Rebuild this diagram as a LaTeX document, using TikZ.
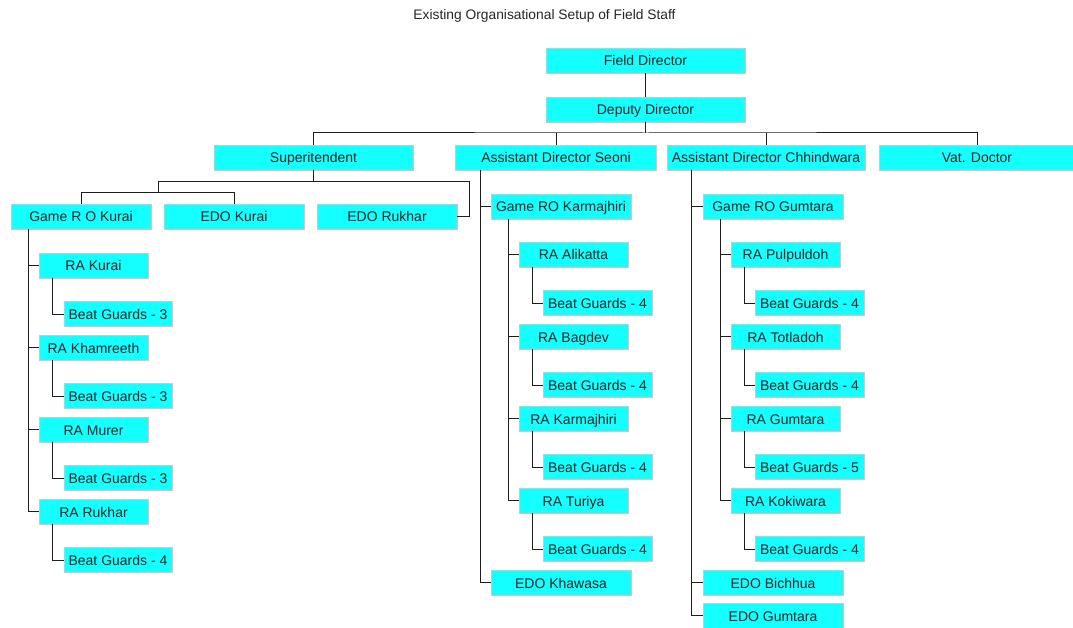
\documentclass[tikz,border=0pt]{standalone}
\usepackage{fontspec}
\setmainfont{Liberation Sans}
\definecolor{boxcyan}{RGB}{20,255,255}
\definecolor{boxedge}{RGB}{200,200,200}
\definecolor{linec}{RGB}{30,30,30}
\tikzset{
  orgbox/.style={draw=boxedge, fill=boxcyan, line width=0.8pt, minimum height=25pt, inner sep=0pt,
    text height=12pt, text depth=1pt,
    font=\fontsize{14}{16}\selectfont, text=black!85},
  wbig/.style={minimum width=199pt},
  wmid/.style={minimum width=140pt},
  wra/.style={minimum width=109pt},
  wbg/.style={minimum width=108pt},
  conn/.style={draw=linec, line width=1pt},
}
\begin{document}
\begin{tikzpicture}[x=1pt,y=-1pt]
\useasboundingbox (0,0) rectangle (1073,628);
\node[font=\fontsize{13.8}{16}\selectfont, text=black!85] (title) at (544.5,16) {Existing Organisational Setup of Field Staff};

% top levels
\node[orgbox,wbig] (fd) at (645.5,60.5) {Field Director};
\node[orgbox,wbig] (dd) at (645.5,109.5) {Deputy Director};
\node[orgbox,wbig] (sup) at (313.5,157.5) {Superitendent};
\node[orgbox,minimum width=201pt] (ads) at (556,157.5) {Assistant Director Seoni};
\node[orgbox,minimum width=198pt] (adc) at (766,157.5) {Assistant Director Chhindwara};
\node[orgbox,minimum width=196pt] (vat) at (977,157.5) {Vat. Doctor};

\draw[conn] (fd.south) -- (dd.north);
\coordinate (bus) at (645.5,133);
\draw[conn] (dd.south) -- (bus);
\draw[conn] (sup.north) |- (bus) -| (vat.north);
\draw[conn] (ads.north) -- (ads.north |- bus);
\draw[conn] (adc.north) -- (adc.north |- bus);

% Superitendent subtree
\node[orgbox,wmid] (grk) at (81,216.5) {Game R O Kurai};
\node[orgbox,wmid] (edok) at (234,216.5) {EDO Kurai};
\node[orgbox,wmid] (edor) at (387,216.5) {EDO Rukhar};
\coordinate (s1) at (158,181.5);
\coordinate (s2) at (469,181.5);
\coordinate (k1) at (158,192.5);
\draw[conn] (sup.south) -- (sup.south |- s1);
\draw[conn] (s1) -- (s2) |- (edor.east);
\draw[conn] (s1) -- (k1);
\draw[conn] (grk.north) |- (k1) -| (edok.north);

% Kurai column
\node[orgbox,wra] (rak) at (93.5,265.5) {RA Kurai};
\node[orgbox,wbg] (bgk1) at (118,314) {Beat Guards - 3};
\node[orgbox,wra] (rakh) at (93.5,347.5) {RA Khamreeth};
\node[orgbox,wbg] (bgk2) at (118,396) {Beat Guards - 3};
\node[orgbox,wra] (ram) at (93.5,429.5) {RA Murer};
\node[orgbox,wbg] (bgk3) at (118,478) {Beat Guards - 3};
\node[orgbox,wra] (rar) at (93.5,511.5) {RA Rukhar};
\node[orgbox,wbg] (bgk4) at (118,560) {Beat Guards - 4};
\coordinate (kx) at ([xshift=18pt]grk.south west);
\draw[conn] (kx) |- (rar.west);
\foreach \n in {rak,rakh,ram} \draw[conn] (kx |- \n.west) -- (\n.west);
\foreach \r/\b in {rak/bgk1,rakh/bgk2,ram/bgk3,rar/bgk4}
  \draw[conn] ([xshift=13.5pt]\r.south west) |- (\b.west);

% Seoni column
\node[orgbox,wmid] (grok) at (561,206.5) {Game RO Karmajhiri};
\node[orgbox,wra] (raa) at (573.5,254.5) {RA Alikatta};
\node[orgbox,wra] (sbg1) at (597.5,303) {Beat Guards - 4};
\node[orgbox,wra] (rab) at (573.5,336.5) {RA Bagdev};
\node[orgbox,wra] (sbg2) at (597.5,385) {Beat Guards - 4};
\node[orgbox,wra] (rakm) at (573.5,418.5) {RA Karmajhiri};
\node[orgbox,wra] (sbg3) at (597.5,467) {Beat Guards - 4};
\node[orgbox,wra] (rat) at (573.5,500.5) {RA Turiya};
\node[orgbox,wra] (sbg4) at (597.5,549) {Beat Guards - 4};
\node[orgbox,wmid] (edokh) at (561,582.5) {EDO Khawasa};
\coordinate (sx) at ([xshift=25.5pt]ads.south west);
\draw[conn] (sx) |- (edokh.west);
\draw[conn] (sx |- grok.west) -- (grok.west);
\coordinate (gx) at ([xshift=18pt]grok.south west);
\draw[conn] (gx) |- (rat.west);
\foreach \n in {raa,rab,rakm} \draw[conn] (gx |- \n.west) -- (\n.west);
\foreach \r/\b in {raa/sbg1,rab/sbg2,rakm/sbg3,rat/sbg4}
  \draw[conn] ([xshift=13.5pt]\r.south west) |- (\b.west);

% Chhindwara column
\node[orgbox,wmid] (grog) at (773,206.5) {Game RO Gumtara};
\node[orgbox,wra] (rap) at (785.5,254.5) {RA Pulpuldoh};
\node[orgbox,wra] (cbg1) at (809.5,303) {Beat Guards - 4};
\node[orgbox,wra] (rato) at (785.5,336.5) {RA Totladoh};
\node[orgbox,wra] (cbg2) at (809.5,385) {Beat Guards - 4};
\node[orgbox,wra] (rag) at (785.5,418.5) {RA Gumtara};
\node[orgbox,wra] (cbg3) at (809.5,467) {Beat Guards - 5};
\node[orgbox,wra] (rako) at (785.5,500.5) {RA Kokiwara};
\node[orgbox,wra] (cbg4) at (809.5,549) {Beat Guards - 4};
\node[orgbox,wmid] (edob) at (773,582.5) {EDO Bichhua};
\node[orgbox,wmid] (edog) at (773,615.5) {EDO Gumtara};
\coordinate (cx) at ([xshift=25pt]adc.south west);
\draw[conn] (cx) |- (edog.west);
\draw[conn] (cx |- grog.west) -- (grog.west);
\draw[conn] (cx |- edob.west) -- (edob.west);
\coordinate (hx) at ([xshift=17.5pt]grog.south west);
\draw[conn] (hx) |- (rako.west);
\foreach \n in {rap,rato,rag} \draw[conn] (hx |- \n.west) -- (\n.west);
\foreach \r/\b in {rap/cbg1,rato/cbg2,rag/cbg3,rako/cbg4}
  \draw[conn] ([xshift=13.5pt]\r.south west) |- (\b.west);
\end{tikzpicture}
\end{document}
